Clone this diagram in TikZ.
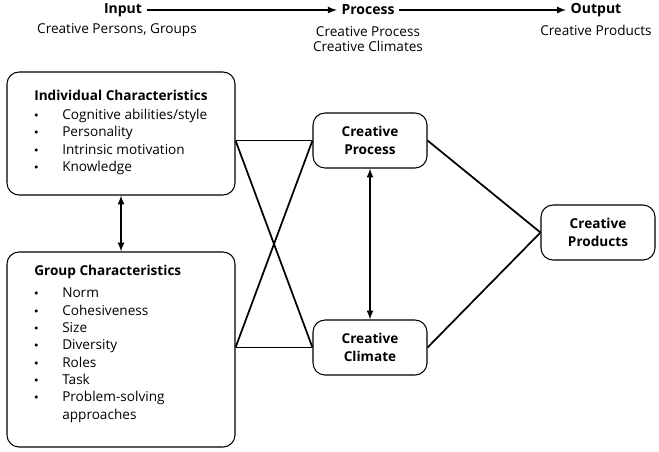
\documentclass[tikz,border=0pt]{standalone}
\usepackage{fontspec}
\setmainfont{Open Sans}
\usetikzlibrary{positioning}
\newcommand{\blt}{\raisebox{1.5pt}{\scalebox{0.6}{$\bullet$}}}
\begin{document}
\begin{tikzpicture}[x=0.75pt,y=-0.75pt,font=\fontsize{10.2}{13}\selectfont]
\tikzstyle{box} = [rectangle, rounded corners=9pt, draw=black, line width=0.8pt, inner sep=0pt]
\tikzstyle{head} = [font=\fontsize{10.5}{12}\selectfont\bfseries]
\tikzstyle{link} = [line width=1.3pt]
\tikzstyle{twoway} = [line width=1.3pt, <->, >=latex]
\useasboundingbox (0,0) rectangle (659,451);

% header
\node(input) [head] at (123,10) {Input};
\node(process) [head] at (368,10) {Process};
\node(output) [head] at (596,10) {Output};
\node(inputText) at (117,30) {Creative Persons, Groups};
\node(processText) [align=center] at (368,39) {Creative Process\\[-2pt]Creative Climates};
\node(outputText) at (596,30) {Creative Products};
\draw[link, ->, >=latex] (input) -- (process);
\draw[link, ->, >=latex] (process) -- (output);

% boxes
\node(indiv) [box, minimum width=228*0.75pt, minimum height=123*0.75pt] at (121,133.5) {};
\node(group) [box, minimum width=228*0.75pt, minimum height=195*0.75pt] at (121,349.5) {};
\node(crProcess) [box, minimum width=114*0.75pt, minimum height=55*0.75pt, align=center, font=\fontsize{10.2}{13}\selectfont\bfseries] at (370,140.5) {Creative\\Process};
\node(crClimate) [box, minimum width=114*0.75pt, minimum height=55*0.75pt, align=center, font=\fontsize{10.2}{13}\selectfont\bfseries] at (370,347.5) {Creative\\Climate};
\node(crProducts) [box, minimum width=114*0.75pt, minimum height=55*0.75pt, align=center, font=\fontsize{10.2}{13}\selectfont\bfseries] at (598,232.5) {Creative\\Products};

\node(indivText) [anchor=north west, inner sep=0pt, align=left] at (34,90) {\textbf{Individual Characteristics}\\[4pt]
\begin{tabular}{@{}p{21pt}@{}l@{}}
\blt & Cognitive abilities/style\\[0pt]
\blt & Personality\\[0pt]
\blt & Intrinsic motivation\\[0pt]
\blt & Knowledge
\end{tabular}};
\node(groupText) [anchor=north west, inner sep=0pt, align=left] at (34,265) {\textbf{Group Characteristics}\\[4pt]
\begin{tabular}{@{}p{21pt}@{}l@{}}
\blt & Norm\\[0pt]
\blt & Cohesiveness\\[0pt]
\blt & Size\\[0pt]
\blt & Diversity\\[0pt]
\blt & Roles\\[0pt]
\blt & Task\\[0pt]
\blt & Problem-solving\\[0pt]
 & approaches
\end{tabular}};

% connectors
\coordinate(indivOut) at (indiv.east |- crProcess.west);
\coordinate(groupOut) at (group.east |- crClimate.west);
\draw[link] (indivOut) -- (crProcess.west);
\draw[link] (indivOut) -- (crClimate.west);
\draw[link] (groupOut) -- (crClimate.west);
\draw[link] (groupOut) -- (crProcess.west);
\draw[link] (crProcess.east) -- (crProducts.west);
\draw[link] (crClimate.east) -- (crProducts.west);
\draw[twoway] (indiv.south) -- (group.north);
\draw[twoway] (crProcess.south) -- (crClimate.north);
\end{tikzpicture}
\end{document}
